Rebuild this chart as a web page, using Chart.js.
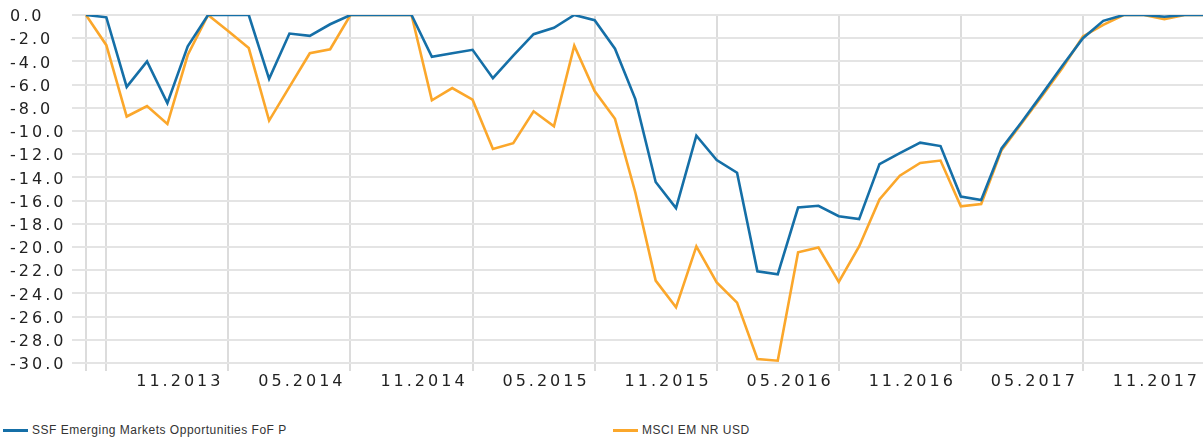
<!DOCTYPE html>
<html>
<head>
<meta charset="utf-8">
<script src="https://cdn.jsdelivr.net/npm/chart.js@4.4.1/dist/chart.umd.min.js"></script>
<style>
  html, body { margin: 0; padding: 0; background: #fff; overflow: hidden; }
  #wrap { position: relative; width: 1203px; height: 441px; overflow: hidden; }
  #chart { position: absolute; left: 0; top: 0; }
  .legend-item { position: absolute; top: 423px; font: 12px "Liberation Sans", Arial, sans-serif; letter-spacing: 0.5px; color: #333; white-space: nowrap; line-height: 14px; }
  .legend-item .swatch { display: inline-block; width: 25px; height: 3px; vertical-align: middle; margin-right: 4px; }
</style>
</head>
<body>
<div id="wrap">
  <canvas id="chart" width="1206" height="395"></canvas>
  <div id="legend"></div>
</div>
<script>
const months = [
  '04.2013', '05.2013', '06.2013', '07.2013', '08.2013', '09.2013', '10.2013', '11.2013', '12.2013',
  '01.2014', '02.2014', '03.2014', '04.2014', '05.2014', '06.2014', '07.2014', '08.2014', '09.2014', '10.2014', '11.2014', '12.2014',
  '01.2015', '02.2015', '03.2015', '04.2015', '05.2015', '06.2015', '07.2015', '08.2015', '09.2015', '10.2015', '11.2015', '12.2015',
  '01.2016', '02.2016', '03.2016', '04.2016', '05.2016', '06.2016', '07.2016', '08.2016', '09.2016', '10.2016', '11.2016', '12.2016',
  '01.2017', '02.2017', '03.2017', '04.2017', '05.2017', '06.2017', '07.2017', '08.2017', '09.2017', '10.2017', '11.2017'
];
const fundValues = [
  0, -0.2, -6.2, -4.0, -7.6, -2.7, 0, 0, 0, -5.5, -1.6, -1.8, -0.8, 0,
  0, 0, 0, -3.6, -3.3, -3.0, -5.45, -3.5, -1.65, -1.1, 0, -0.45, -2.9, -7.25,
  -14.4, -16.65, -10.4, -12.5, -13.6, -22.1, -22.35, -16.6, -16.45, -17.35, -17.6, -12.85,
  -11.9, -11.0, -11.3, -15.65, -15.95, -11.5, -9.2, -6.8, -4.35, -2.0, -0.5, 0, 0, -0.15, 0, 0
];
const indexValues = [
  0, -2.6, -8.75, -7.85, -9.4, -3.45, 0, -1.4, -2.85, -9.1, -6.2, -3.3, -2.95, 0,
  0, 0, 0, -7.35, -6.3, -7.3, -11.55, -11.05, -8.3, -9.6, -2.65, -6.55, -8.95, -15.3,
  -22.9, -25.2, -19.95, -23.05, -24.8, -29.65, -29.8, -20.45, -20.05, -23.0, -19.95, -15.9,
  -13.85, -12.75, -12.55, -16.5, -16.3, -11.65, -9.3, -6.95, -4.55, -1.85, -0.85, 0, 0, -0.35, 0, 0
];
const tickLabels = ['11.2013', '05.2014', '11.2014', '05.2015', '11.2015', '05.2016', '11.2016', '05.2017', '11.2017'];
const seriesNames = ['SSF Emerging Markets Opportunities FoF P', 'MSCI EM NR USD'];
const seriesColors = ['#156fa7', '#fba72b'];
const legendLeft = [3, 613];

function isGridLine(i) {
  const m = months[i].slice(0, 2);
  return i === 0 || m === '05' || m === '11';
}

// the reference text is drawn wide, letter spacing gets close to that
const wideText = {
  id: 'wideText',
  beforeUpdate(chart) { chart.ctx.letterSpacing = '3px'; },
  beforeDraw(chart) { chart.ctx.letterSpacing = '3px'; }
};

const tickFont = { family: 'DejaVu Sans', size: 16 };

new Chart(document.getElementById('chart'), {
  type: 'line',
  data: {
    labels: months,
    datasets: [
      { label: seriesNames[0], data: fundValues, borderColor: seriesColors[0], borderWidth: 2.6, pointRadius: 0, tension: 0 },
      { label: seriesNames[1], data: indexValues, borderColor: seriesColors[1], borderWidth: 2.6, pointRadius: 0, tension: 0 }
    ]
  },
  options: {
    responsive: false,
    animation: false,
    layout: { padding: { top: 15, left: 10, right: 0, bottom: 0 } },
    plugins: { legend: { display: false }, tooltip: { enabled: false } },
    scales: {
      x: {
        offset: false,
        grid: {
          color: ctx => isGridLine(ctx.index) ? '#dcdcdc' : 'rgba(0,0,0,0)',
          lineWidth: 2,
          tickLength: 8
        },
        border: { color: '#e4e4e4', width: 2 },
        ticks: {
          autoSkip: false,
          maxRotation: 0,
          minRotation: 0,
          align: 'end',
          labelOffset: -5,
          padding: 1,
          color: '#222',
          font: tickFont,
          callback: (v, i) => tickLabels.includes(months[i]) ? months[i] : ''
        },
        afterFit: scale => { scale.height = 32; }
      },
      y: {
        min: -30,
        max: 0,
        grid: { color: '#e4e4e4', lineWidth: 2, tickLength: 14 },
        border: { display: false },
        ticks: {
          stepSize: 2,
          crossAlign: 'far',
          labelOffset: 2,
          color: '#222',
          font: tickFont,
          callback: v => v.toFixed(1)
        },
        afterFit: scale => { scale.width = 76; }
      }
    }
  },
  plugins: [wideText]
});

const legend = document.getElementById('legend');
seriesNames.forEach((name, i) => {
  const item = document.createElement('div');
  item.className = 'legend-item';
  item.style.left = legendLeft[i] + 'px';
  item.innerHTML = '<span class="swatch" style="background:' + seriesColors[i] + '"></span>' + name;
  legend.appendChild(item);
});
</script>
</body>
</html>
